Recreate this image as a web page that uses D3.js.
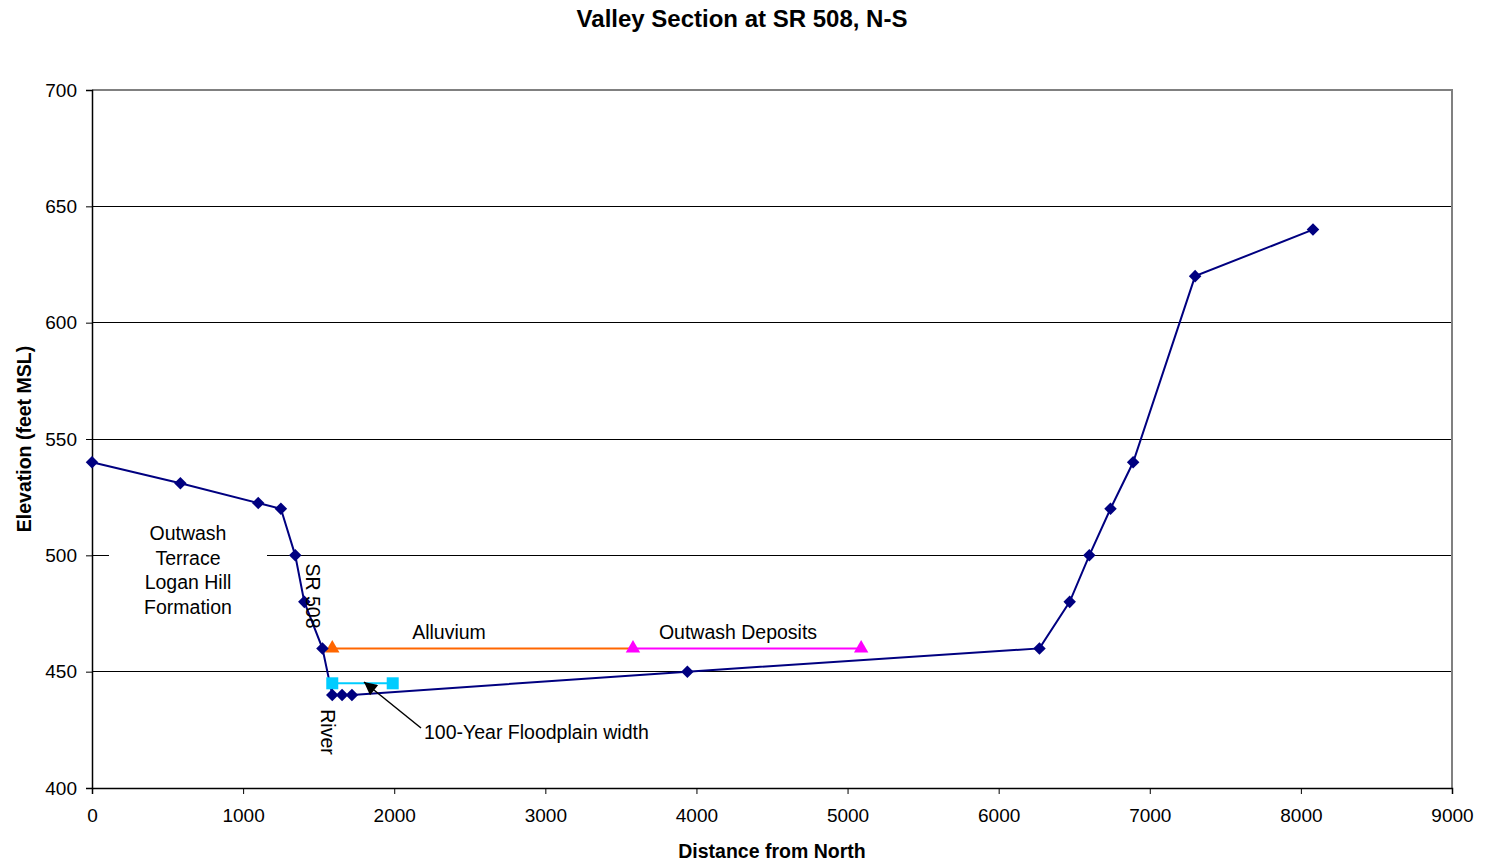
<!DOCTYPE html>
<html>
<head>
<meta charset="utf-8">
<script src="https://cdn.jsdelivr.net/npm/d3@7"></script>
<style>
  html, body { margin: 0; padding: 0; background: #fff; }
  svg { display: block; font-family: "Liberation Sans", Arial, sans-serif; }
</style>
</head>
<body>
<svg id="chart" width="1486" height="866"></svg>
<script>
// Ground profile: distance from north (ft) and elevation (ft MSL)
const profileDistance = [0, 585, 1100, 1250, 1345, 1405, 1525, 1590, 1655, 1720, 3940, 6270, 6470, 6600, 6740, 6890, 7300, 8080];
const profileElevation = [540, 531, 522.5, 520, 500, 480, 460, 440, 440, 440, 450, 460, 480, 500, 520, 540, 620, 640];

// Alluvium extent
const alluviumDistance = [1590, 3580];
const alluviumElevation = [460, 460];

// Outwash deposits extent
const outwashDistance = [3580, 5090];
const outwashElevation = [460, 460];

// 100-year floodplain width
const floodDistance = [1590, 1990];
const floodElevation = [445, 445];

const xTicks = [0, 1000, 2000, 3000, 4000, 5000, 6000, 7000, 8000, 9000];
const yTicks = [400, 450, 500, 550, 600, 650, 700];

const svg = d3.select("#chart");
const m = { left: 92, right: 1452, top: 90, bottom: 788 };
const bodySize = 19.5;

const x = d3.scaleLinear().domain([0, 9000]).range([m.left, m.right]);
const y = d3.scaleLinear().domain([400, 700]).range([m.bottom, m.top]);

// Gridlines
svg.append("g")
  .selectAll("line")
  .data(yTicks.filter(v => v > 400 && v < 700))
  .join("line")
  .attr("x1", m.left).attr("x2", m.right)
  .attr("y1", d => y(d)).attr("y2", d => y(d))
  .attr("stroke", "#000").attr("stroke-width", 1)
  .attr("shape-rendering", "crispEdges");

// Plot frame (top and right)
svg.append("path")
  .attr("d", `M${m.left},${m.top}H${m.right}V${m.bottom}`)
  .attr("fill", "none").attr("stroke", "#808080").attr("stroke-width", 1.5)
  .attr("shape-rendering", "crispEdges");

// Axes
const xAxis = svg.append("g")
  .attr("transform", `translate(0,${m.bottom})`)
  .call(d3.axisBottom(x).tickValues(xTicks).tickFormat(d3.format("d")).tickSize(6).tickPadding(15));
const yAxis = svg.append("g")
  .attr("transform", `translate(${m.left},0)`)
  .call(d3.axisLeft(y).tickValues(yTicks).tickFormat(d3.format("d")).tickSize(6).tickPadding(9));

[xAxis, yAxis].forEach(a => {
  a.select(".domain").attr("stroke", "#000").attr("stroke-width", 1.5);
  a.selectAll(".tick line").attr("stroke", "#000");
  a.selectAll(".tick text")
    .attr("font-family", "Liberation Sans, Arial, sans-serif")
    .attr("font-size", 19).attr("fill", "#000");
});

// Formation label with white backing
const labelG = svg.append("g");
labelG.append("rect")
  .attr("x", 109).attr("y", 519).attr("width", 158).attr("height", 104)
  .attr("fill", "#fff");
const formationLines = ["Outwash", "Terrace", "Logan Hill", "Formation"];
labelG.selectAll("text")
  .data(formationLines)
  .join("text")
  .attr("x", 188)
  .attr("y", (d, i) => 540 + i * 24.7)
  .attr("text-anchor", "middle")
  .attr("font-size", bodySize)
  .text(d => d);

// Series lines and markers
const line = d3.line().x(d => x(d[0])).y(d => y(d[1]));

function series(xs, ys, color, width) {
  const pts = xs.map((d, i) => [d, ys[i]]);
  svg.append("path").datum(pts)
    .attr("d", line).attr("fill", "none")
    .attr("stroke", color).attr("stroke-width", width);
  return pts;
}

const alluvium = series(alluviumDistance, alluviumElevation, "#FF6600", 2);
const outwash = series(outwashDistance, outwashElevation, "#FF00FF", 2);
const flood = series(floodDistance, floodElevation, "#00CCFF", 2);
const profile = series(profileDistance, profileElevation, "#000080", 2);

const tri = d3.symbol().type(d3.symbolTriangle).size(90);
svg.append("g").selectAll("path").data(alluvium.slice(0, 1)).join("path")
  .attr("d", tri).attr("fill", "#FF6600")
  .attr("transform", d => `translate(${x(d[0])},${y(d[1])})`);
svg.append("g").selectAll("path").data(outwash).join("path")
  .attr("d", tri).attr("fill", "#FF00FF")
  .attr("transform", d => `translate(${x(d[0])},${y(d[1])})`);

svg.append("g").selectAll("rect").data(flood).join("rect")
  .attr("x", d => x(d[0]) - 6).attr("y", d => y(d[1]) - 6)
  .attr("width", 12).attr("height", 12)
  .attr("fill", "#00CCFF");

const diamond = d3.symbol().type(d3.symbolDiamond2).size(100);
svg.append("g").selectAll("path").data(profile).join("path")
  .attr("d", diamond).attr("fill", "#000080")
  .attr("transform", d => `translate(${x(d[0])},${y(d[1])})`);

// Annotations
svg.append("text").attr("x", 449).attr("y", 639)
  .attr("text-anchor", "middle").attr("font-size", bodySize).text("Alluvium");
svg.append("text").attr("x", 738).attr("y", 639)
  .attr("text-anchor", "middle").attr("font-size", bodySize).text("Outwash Deposits");

svg.append("text")
  .attr("transform", "translate(306,596) rotate(90)")
  .attr("text-anchor", "middle").attr("font-size", bodySize).text("SR 508");
svg.append("text")
  .attr("transform", "translate(321,732) rotate(90)")
  .attr("text-anchor", "middle").attr("font-size", bodySize).text("River");

// Floodplain callout arrow
svg.append("defs").append("marker")
  .attr("id", "arrowhead")
  .attr("viewBox", "0 0 10 10")
  .attr("refX", 10).attr("refY", 5)
  .attr("markerWidth", 15).attr("markerHeight", 13)
  .attr("markerUnits", "userSpaceOnUse")
  .attr("orient", "auto")
  .append("path").attr("d", "M0,0L10,5L0,10Z").attr("fill", "#000");
svg.append("line")
  .attr("x1", 421).attr("y1", 728).attr("x2", 364).attr("y2", 682)
  .attr("stroke", "#000").attr("stroke-width", 1.5)
  .attr("marker-end", "url(#arrowhead)");
svg.append("text").attr("x", 424).attr("y", 739)
  .attr("font-size", bodySize).text("100-Year Floodplain width");

// Titles
svg.append("text").attr("x", 742).attr("y", 27)
  .attr("text-anchor", "middle").attr("font-size", 24).attr("font-weight", "bold")
  .text("Valley Section at SR 508, N-S");
svg.append("text").attr("x", 772).attr("y", 858)
  .attr("text-anchor", "middle").attr("font-size", 19.5).attr("font-weight", "bold")
  .text("Distance from North");
svg.append("text")
  .attr("transform", "translate(31,439) rotate(-90)")
  .attr("text-anchor", "middle").attr("font-size", 19.5).attr("font-weight", "bold")
  .text("Elevation (feet MSL)");
</script>
</body>
</html>
